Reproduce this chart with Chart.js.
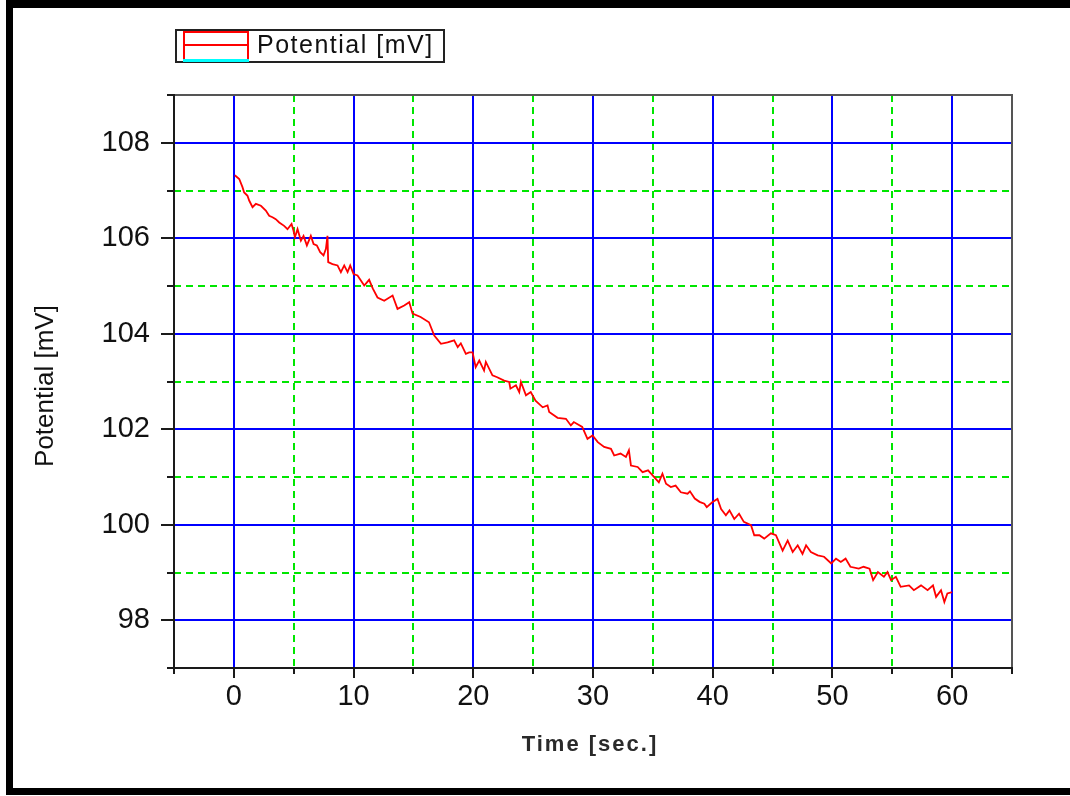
<!DOCTYPE html>
<html>
<head>
<meta charset="utf-8">
<title>Potential [mV]</title>
<script src="https://cdn.jsdelivr.net/npm/chart.js@4.4.1/dist/chart.umd.min.js"></script>
<style>
  html, body { margin: 0; padding: 0; background: #fff; overflow: hidden; }
  #wrap { position: relative; width: 1070px; height: 796px; font-family: "Liberation Sans", Arial, sans-serif; color: #111; }
  #chart { position: absolute; left: 0; top: 0; }
  #frame { position: absolute; left: 6px; top: 0; width: 1080px; height: 795px; box-sizing: border-box;
           border-top: 8px solid #000; border-left: 7px solid #000; border-bottom: 7px solid #000; pointer-events: none; }
  .abs { position: absolute; }
  #legend { left: 175px; top: 29px; width: 270px; height: 34px; box-sizing: border-box; border: 2px solid #222; background: #fff; }
  .red { background: #ff0000; }
  #legend-text { left: 257px; top: 28px; line-height: 32px; font-size: 25px; letter-spacing: 1.5px; white-space: nowrap; }
  #x-title { left: 440px; top: 729px; width: 300px; line-height: 30px; text-align: center; font-size: 22px;
             font-weight: bold; letter-spacing: 2px; color: #2a2a2a; }
  #y-title { left: -76px; top: 371px; width: 240px; line-height: 30px; text-align: center; font-size: 26px;
             transform: rotate(-90deg); white-space: nowrap; }
</style>
</head>
<body>
<div id="wrap">
  <canvas id="chart" width="1070" height="796"></canvas>

  <div id="legend" class="abs"></div>
  <div class="abs red" style="left:183px;top:31px;width:66px;height:2px"></div>
  <div class="abs red" style="left:183px;top:44px;width:66px;height:2px"></div>
  <div class="abs red" style="left:183px;top:31px;width:2px;height:30px"></div>
  <div class="abs red" style="left:247px;top:31px;width:2px;height:30px"></div>
  <div class="abs" style="left:183px;top:59px;width:66px;height:3px;background:#00ffff"></div>
  <div id="legend-text" class="abs">Potential [mV]</div>

  <div id="x-title" class="abs">Time [sec.]</div>
  <div id="y-title" class="abs">Potential [mV]</div>

  <div id="frame"></div>
</div>

<script>
// Electrode potential recorded over one minute.
const timeSec = [
  0.08, 0.45, 0.72, 0.86, 1.14, 1.28, 1.56, 1.84, 2.26, 2.67,
  2.95, 3.23, 3.5, 3.79, 4.2, 4.48, 4.82, 4.98, 5.1, 5.32,
  5.6, 5.82, 6.1, 6.43, 6.66, 6.93, 7.21, 7.49, 7.69, 7.82,
  7.88, 8.24, 8.66, 8.94, 9.22, 9.5, 9.72, 10.0,
  10.33, 10.89, 11.3, 11.6, 12.0, 12.56,
  13.26, 13.67, 14.23, 14.65, 14.93, 15.6, 16.3, 16.74, 17.3, 17.85,
  18.4, 18.7, 18.96, 19.38, 19.66, 19.94, 20.2, 20.5, 20.9, 21.05,
  21.6, 22.0, 22.58, 23.0, 23.1, 23.56, 23.84, 23.98, 24.4, 24.8,
  25.2, 25.8, 26.2, 26.34, 27.04, 27.74, 28.15, 28.4, 29.1, 29.54,
  29.96, 30.4, 30.93, 31.5, 31.77, 32.3, 32.75, 33.0, 33.17, 33.73,
  34.14, 34.6, 35.0, 35.5, 35.8, 36.1, 36.5, 36.9, 37.34, 37.9,
  38.1, 38.5, 38.9, 39.3, 39.5, 39.96, 40.4, 40.7, 41.1, 41.4,
  41.8, 42.2, 42.6, 43.2, 43.47, 43.9, 44.3, 44.86, 45.28, 45.84,
  46.26, 46.68, 47.1, 47.5, 47.8, 48.2, 48.77, 49.3, 49.9, 50.3,
  50.7, 51.1, 51.5, 52.2, 52.6, 53.1, 53.4, 53.8, 54.3, 54.6,
  54.9, 55.3, 55.7, 56.4, 56.8, 57.4, 57.95, 58.4, 58.66, 59.07,
  59.35, 59.6, 60.0
];
const potentialMv = [
  107.32, 107.24, 107.07, 106.96, 106.89, 106.79, 106.65, 106.72, 106.68, 106.58,
  106.47, 106.44, 106.4, 106.33, 106.26, 106.19, 106.3, 106.16, 106.02, 106.19,
  105.95, 106.05, 105.85, 106.05, 105.88, 105.85, 105.71, 105.64, 105.78, 106.05,
  105.5, 105.46, 105.43, 105.29, 105.43, 105.29, 105.43, 105.25,
  105.22, 105.01, 105.13, 104.95, 104.76, 104.69,
  104.8, 104.52, 104.59, 104.66, 104.42, 104.35, 104.24, 103.96, 103.79, 103.82,
  103.86, 103.72, 103.8, 103.58, 103.61, 103.61, 103.3, 103.44, 103.23, 103.41,
  103.13, 103.09, 103.02, 102.99, 102.85, 102.92, 102.78, 102.99, 102.71, 102.78,
  102.6, 102.46, 102.5, 102.36, 102.24, 102.22, 102.08, 102.15, 102.05, 101.8,
  101.87, 101.73, 101.63, 101.59, 101.45, 101.49, 101.42, 101.56, 101.24, 101.21,
  101.1, 101.14, 101.03, 100.89, 101.07, 100.86, 100.79, 100.82, 100.68, 100.65,
  100.7, 100.55, 100.48, 100.44, 100.37, 100.47, 100.54, 100.33, 100.2, 100.3,
  100.12, 100.23, 100.06, 99.99, 99.78, 99.78, 99.71, 99.82, 99.78, 99.46,
  99.67, 99.43, 99.57, 99.39, 99.57, 99.43, 99.36, 99.33, 99.19, 99.29,
  99.22, 99.29, 99.12, 99.08, 99.12, 99.08, 98.84, 99.01, 98.91, 99.01,
  98.84, 98.91, 98.7, 98.73, 98.63, 98.73, 98.63, 98.73, 98.49, 98.63,
  98.38, 98.56, 98.59
];

// axis ranges and tick values
const timeRange = [-5, 65];
const potRange = [97, 109];
const timeMajor = [0, 10, 20, 30, 40, 50, 60];
const timeMinor = [-5, 5, 15, 25, 35, 45, 55, 65];
const potMajor = [98, 100, 102, 104, 106, 108];
const potMinor = [97, 99, 101, 103, 105, 107, 109];

const points = timeSec.map(function (t, i) { return { x: t, y: potentialMv[i] }; });

// grid, frame and tick marks drawn from the scales (blue major, green dashed minor)
const originGrid = {
  id: "originGrid",
  beforeDatasetsDraw(chart) {
    const ctx = chart.ctx;
    const a = chart.chartArea;
    const x = chart.scales.x, y = chart.scales.y;
    const px = function (v) { return Math.round(x.getPixelForValue(v)); };
    const py = function (v) { return Math.round(y.getPixelForValue(v)); };
    const seg = function (x1, y1, x2, y2) { ctx.beginPath(); ctx.moveTo(x1, y1); ctx.lineTo(x2, y2); ctx.stroke(); };

    ctx.save();
    ctx.lineWidth = 2;

    ctx.strokeStyle = "#00e600";
    ctx.setLineDash([7, 5]);
    timeMinor.forEach(function (v) {
      if (v <= timeRange[0] || v >= timeRange[1]) return;
      seg(px(v), a.top, px(v), a.bottom);
    });
    potMinor.forEach(function (v) {
      if (v <= potRange[0] || v >= potRange[1]) return;
      seg(a.left, py(v), a.right, py(v));
    });

    ctx.setLineDash([]);
    ctx.strokeStyle = "#0000ff";
    timeMajor.forEach(function (v) { seg(px(v), a.top, px(v), a.bottom); });
    potMajor.forEach(function (v) { seg(a.left, py(v), a.right, py(v)); });

    // frame
    ctx.strokeStyle = "#555";
    seg(a.left, a.top, a.right + 1, a.top);
    seg(a.right, a.top, a.right, a.bottom);
    ctx.strokeStyle = "#1a1a1a";
    seg(a.left, a.top - 1, a.left, a.bottom + 1);
    seg(a.left - 1, a.bottom, a.right + 1, a.bottom);

    // outward tick marks
    timeMajor.forEach(function (v) { seg(px(v), a.bottom, px(v), a.bottom + 10); });
    timeMinor.forEach(function (v) { seg(px(v), a.bottom, px(v), a.bottom + 6); });
    potMajor.forEach(function (v) { seg(a.left, py(v), a.left - 13, py(v)); });
    potMinor.forEach(function (v) { seg(a.left, py(v), a.left - 7, py(v)); });
    ctx.restore();
  }
};

const tickFont = { family: "'Liberation Sans', Arial, sans-serif", size: 29 };

new Chart(document.getElementById("chart"), {
  type: "line",
  data: {
    datasets: [{
      label: "Potential [mV]",
      data: points,
      borderColor: "#ff0000",
      borderWidth: 1.8,
      pointRadius: 0,
      tension: 0,
      fill: false
    }]
  },
  options: {
    responsive: false,
    animation: false,
    events: [],
    layout: { padding: { left: 94, top: 95, right: 58, bottom: 48 } },
    plugins: { legend: { display: false }, tooltip: { enabled: false } },
    scales: {
      x: {
        type: "linear",
        min: timeRange[0],
        max: timeRange[1],
        afterBuildTicks: function (s) { s.ticks = timeMajor.map(function (v) { return { value: v }; }); },
        afterFit: function (s) { s.height = 80; },
        grid: { drawOnChartArea: false, drawTicks: false },
        border: { display: false },
        ticks: { color: "#111", font: tickFont, padding: 12, maxRotation: 0, autoSkip: false }
      },
      y: {
        type: "linear",
        min: potRange[0],
        max: potRange[1],
        afterBuildTicks: function (s) { s.ticks = potMajor.map(function (v) { return { value: v }; }); },
        afterFit: function (s) { s.width = 80; },
        grid: { drawOnChartArea: false, drawTicks: false },
        border: { display: false },
        ticks: { color: "#111", font: tickFont, padding: 24, autoSkip: false }
      }
    }
  },
  plugins: [originGrid]
});
</script>
</body>
</html>
